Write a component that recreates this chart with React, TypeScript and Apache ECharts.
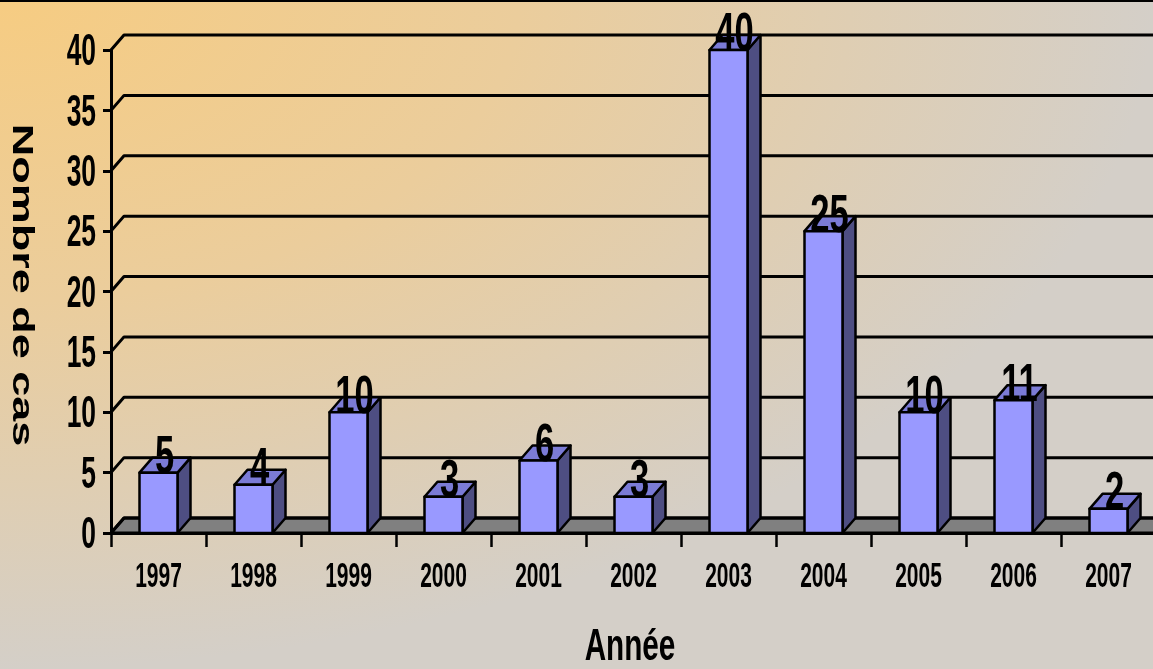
import React, { useEffect, useRef } from "react";
import * as echarts from "echarts";

const years = ["1997", "1998", "1999", "2000", "2001", "2002", "2003", "2004", "2005", "2006", "2007"];
const cases = [5, 4, 10, 3, 6, 3, 40, 25, 10, 11, 2];
const yTicks = [0, 5, 10, 15, 20, 25, 30, 35, 40];
const yTitle = "Nombre de cas";
const xTitle = "Année";

const DX = 13;
const DY = 15;
const FONT = '"Liberation Sans", Arial, sans-serif';
const SQ = 0.6;

export default function App() {
  const ref = useRef<HTMLDivElement>(null);
  useEffect(() => {
    document.body.style.margin = "0";
    const chart = echarts.init(ref.current!, null, { renderer: "svg" });
    const stroke = { stroke: "#000", lineWidth: 3, lineJoin: "round" as const };
    chart.setOption({
      animation: false,
      backgroundColor: "transparent",
      grid: { left: 111, top: 50, width: 1045, height: 483, containLabel: false, outerBoundsMode: "none" },
      xAxis: {
        type: "category",
        data: years,
        z: 5,
        axisLine: { show: true, lineStyle: { color: "#000", width: 3 } },
        axisTick: { show: true, length: 14, lineStyle: { color: "#000", width: 2.5 } },
        axisLabel: { show: false },
        splitLine: { show: false },
      },
      yAxis: {
        type: "value",
        min: 0,
        max: 40,
        interval: 5,
        z: 5,
        axisLine: { show: true, lineStyle: { color: "#000", width: 3 } },
        axisTick: { show: true, length: 8, lineStyle: { color: "#000", width: 3 } },
        axisLabel: { show: false },
        splitLine: { show: false },
      },
      graphic: [
        { type: "line", shape: { x1: 0, y1: 1, x2: 1153, y2: 1 }, style: { stroke: "#000", lineWidth: 2 } },
        {
          type: "text",
          x: 24,
          y: 285,
          rotation: -Math.PI / 2,
          scaleX: 1.5,
          style: { text: yTitle, x: 0, y: 0, align: "center", verticalAlign: "middle", font: `bold 30px ${FONT}`, fill: "#000" },
        },
        {
          type: "text",
          x: 630,
          y: 644,
          scaleX: 0.66,
          style: { text: xTitle, x: 0, y: 0, align: "center", verticalAlign: "middle", font: `bold 45px ${FONT}`, fill: "#000" },
        },
      ],
      series: [
        {
          type: "custom",
          name: "floor",
          data: [[0, 0]],
          renderItem: (params: any, api: any) => {
            const cs = params.coordSys;
            const y0 = api.coord([0, 0])[1];
            const xl = cs.x;
            const xr = cs.x + cs.width + 40;
            return {
              type: "polygon",
              shape: { points: [[xl, y0], [xl + DX, y0 - DY], [xr, y0 - DY], [xr, y0]] },
              style: { fill: "#808080", ...stroke },
            };
          },
        },
        {
          type: "custom",
          name: "grid",
          data: yTicks.map((v) => [0, v]),
          renderItem: (params: any, api: any) => {
            const cs = params.coordSys;
            const y = api.coord([0, api.value(1)])[1];
            const xl = cs.x;
            const xr = cs.x + cs.width + 40;
            return {
              type: "polyline",
              shape: { points: [[xl, y], [xl + DX, y - DY], [xr, y - DY]] },
              style: { fill: "none", ...stroke },
            };
          },
        },
        {
          type: "custom",
          name: "bars",
          data: cases.map((v, i) => [i, v]),
          renderItem: (params: any, api: any) => {
            const i = api.value(0);
            const v = api.value(1);
            const top = api.coord([i, v]);
            const base = api.coord([i, 0]);
            const w = api.size([1, 0])[0] * 0.4;
            const x0 = top[0] - w / 2;
            const x1 = top[0] + w / 2;
            const yt = top[1];
            const yb = base[1];
            const st = { stroke: "#000", lineWidth: 2.5, lineJoin: "round" as const };
            return {
              type: "group",
              children: [
                {
                  type: "polygon",
                  shape: { points: [[x1, yb], [x1, yt], [x1 + DX, yt - DY], [x1 + DX, yb - DY]] },
                  style: { fill: "#4e4e82", ...st },
                },
                {
                  type: "polygon",
                  shape: { points: [[x0, yt], [x0 + DX, yt - DY], [x1 + DX, yt - DY], [x1, yt]] },
                  style: { fill: "#7b7bd6", ...st },
                },
                {
                  type: "rect",
                  shape: { x: x0, y: yt, width: w, height: yb - yt },
                  style: { fill: "#9999ff", ...st },
                },
              ],
            };
          },
        },
        {
          type: "custom",
          name: "values",
          data: cases.map((v, i) => [i, v]),
          renderItem: (params: any, api: any) => {
            const p = api.coord([api.value(0), api.value(1)]);
            return {
              type: "text",
              x: p[0] + 6,
              y: p[1] - 18,
              scaleX: 0.64,
              style: {
                text: String(api.value(1)),
                x: 0,
                y: 0,
                align: "center",
                verticalAlign: "middle",
                font: `bold 54px ${FONT}`,
                fill: "#000",
              },
            };
          },
        },
        {
          type: "custom",
          name: "ylabels",
          data: yTicks.map((v) => [0, v]),
          renderItem: (params: any, api: any) => {
            const cs = params.coordSys;
            const y = api.coord([0, api.value(1)])[1];
            return {
              type: "text",
              x: cs.x - 15,
              y: y,
              scaleX: SQ,
              style: {
                text: String(api.value(1)),
                x: 0,
                y: 0,
                align: "right",
                verticalAlign: "middle",
                font: `bold 44px ${FONT}`,
                fill: "#000",
              },
            };
          },
        },
        {
          type: "custom",
          name: "xlabels",
          data: years.map((y, i) => [i, 0]),
          renderItem: (params: any, api: any) => {
            const i = api.value(0);
            const x = api.coord([i, 0])[0];
            return {
              type: "text",
              x: x,
              y: 575,
              scaleX: SQ,
              style: {
                text: years[i],
                x: 0,
                y: 0,
                align: "center",
                verticalAlign: "middle",
                font: `bold 35px ${FONT}`,
                fill: "#000",
              },
            };
          },
        },
      ],
    });
    return () => chart.dispose();
  }, []);
  return (
    <div
      style={{
        position: "fixed",
        left: 0,
        top: 0,
        width: 1153,
        height: 669,
        background: "radial-gradient(ellipse farthest-side at 0% 0%, #f6cc82 0%, #ebcd9c 45%, #d4cfc8 100%)",
      }}
    >
      <div ref={ref} style={{ width: 1153, height: 669 }} />
    </div>
  );
}
